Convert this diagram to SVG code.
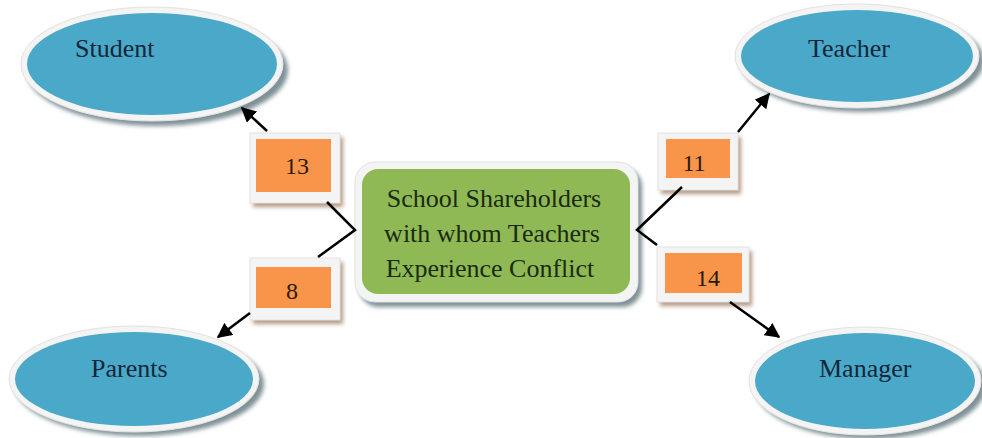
<svg xmlns="http://www.w3.org/2000/svg" width="982" height="438" viewBox="0 0 982 438">
<defs>
<filter id="blur" x="-10%" y="-10%" width="120%" height="130%"><feGaussianBlur stdDeviation="2"/></filter>
<marker id="ah" viewBox="0 0 10 10" refX="9" refY="5" markerWidth="6" markerHeight="6" orient="auto-start-reverse" markerUnits="strokeWidth"><path d="M0,0 L10,5 L0,10 z" fill="#000"/></marker>
<style>
.sh{fill:#7f9196;filter:url(#blur)}
.rim{fill:#f4f4f4;stroke:#e2e2e2;stroke-width:1}
.blue{fill:#4aa9c8}
.org{fill:#f8954a}
.bsh{fill:#b59a85;filter:url(#blur)}
.green{fill:#8fb955}
.lbl{font-family:"Liberation Serif","Times New Roman",serif;font-size:26px;fill:#14263a}
.ctr{font-family:"Liberation Serif","Times New Roman",serif;font-size:26px;fill:#1b2a12;text-anchor:middle}
.num{font-family:"Liberation Serif","Times New Roman",serif;font-size:24px;fill:#2a1a0c;text-anchor:middle}
.ln{stroke:#000;stroke-width:2.5;fill:none}
</style>
</defs>
<rect width="982" height="438" fill="#fff"/>

<g id="student">
<ellipse class="sh" cx="157" cy="70" rx="131" ry="56"/>
<ellipse class="rim" cx="152" cy="64" rx="131" ry="57"/>
<ellipse class="blue" cx="152" cy="64" rx="125" ry="51"/>
<text class="lbl" x="75" y="57">Student</text>
</g>

<g id="teacher">
<ellipse class="sh" cx="862" cy="61" rx="122" ry="51"/>
<ellipse class="rim" cx="857" cy="56" rx="122" ry="52"/>
<ellipse class="blue" cx="857" cy="56" rx="116" ry="46"/>
<text class="lbl" x="808" y="57">Teacher</text>
</g>

<g id="parents">
<ellipse class="sh" cx="139" cy="384" rx="125" ry="52"/>
<ellipse class="rim" cx="134" cy="379" rx="125" ry="53"/>
<ellipse class="blue" cx="134" cy="379" rx="119" ry="47"/>
<text class="lbl" x="91" y="377">Parents</text>
</g>

<g id="manager">
<ellipse class="sh" cx="870" cy="386" rx="116" ry="53"/>
<ellipse class="rim" cx="865" cy="381" rx="116" ry="54"/>
<ellipse class="blue" cx="865" cy="381" rx="110" ry="48"/>
<text class="lbl" x="819" y="377">Manager</text>
</g>

<g id="center">
<rect class="sh" x="359" y="167" width="283" height="140" rx="20"/>
<rect class="rim" x="355" y="162" width="283" height="140" rx="20"/>
<rect class="green" x="362" y="169" width="268" height="125" rx="16"/>
<text class="ctr" x="494" y="207">School Shareholders</text>
<text class="ctr" x="492" y="242">with whom Teachers</text>
<text class="ctr" x="490" y="277">Experience Conflict</text>
</g>

<g id="box13">
<rect class="bsh" x="253" y="137" width="90" height="70"/>
<rect class="rim" x="250" y="133" width="90" height="70"/>
<rect class="org" x="256" y="139" width="75" height="53"/>
<text class="num" x="297" y="174">13</text>
</g>

<g id="box8">
<rect class="bsh" x="253" y="262" width="90" height="62"/>
<rect class="rim" x="250" y="258" width="90" height="62"/>
<rect class="org" x="256" y="267" width="75" height="41"/>
<text class="num" x="292" y="299">8</text>
</g>

<g id="box11">
<rect class="bsh" x="661" y="137" width="80" height="57"/>
<rect class="rim" x="658" y="133" width="80" height="57"/>
<rect class="org" x="666" y="139" width="64" height="39"/>
<text class="num" x="694" y="171">11</text>
</g>

<g id="box14">
<rect class="bsh" x="660" y="251" width="92" height="55"/>
<rect class="rim" x="657" y="247" width="92" height="55"/>
<rect class="org" x="665" y="253" width="77" height="40"/>
<text class="num" x="708" y="286">14</text>
</g>

<g id="connectors">
<polyline class="ln" points="327,202 355,230 318,257"/>
<polyline class="ln" points="682,187 637,230 657,245"/>
<line class="ln" x1="267" y1="131" x2="242" y2="108" marker-end="url(#ah)"/>
<line class="ln" x1="250" y1="313" x2="218" y2="337" marker-end="url(#ah)"/>
<line class="ln" x1="738" y1="132" x2="769" y2="94" marker-end="url(#ah)"/>
<line class="ln" x1="730" y1="302" x2="779" y2="337" marker-end="url(#ah)"/>
</g>
</svg>
